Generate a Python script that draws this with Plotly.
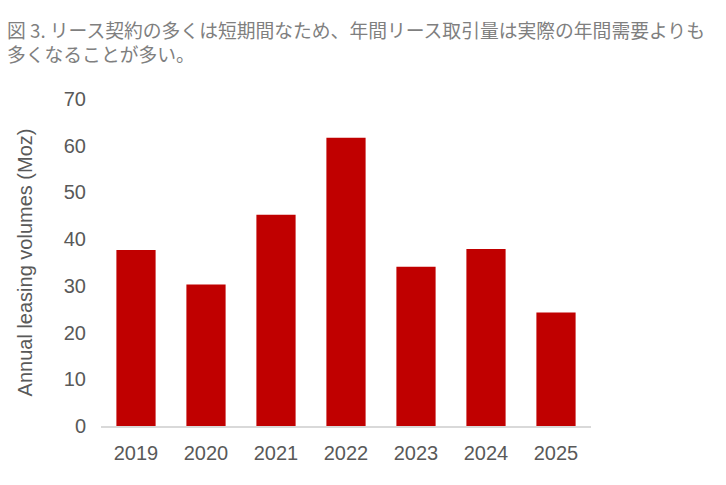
import plotly.graph_objects as go

years = ["2019", "2020", "2021", "2022", "2023", "2024", "2025"]
volumes = [37.7, 30.3, 45.2, 61.7, 34.1, 37.9, 24.3]
y_ticks = [0, 10, 20, 30, 40, 50, 60, 70]

title_lines = ["図 3. リース契約の多くは短期間なため、年間リース取引量は実際の年間需要よりも",
               "多くなることが多い。"]

L, R, T, B = 101, 135, 99, 59
W, H = 726, 485
pw, ph = W - L - R, H - T - B

fig = go.Figure(go.Bar(
    x=years, y=volumes,
    marker=dict(color="#C00000", line=dict(width=0)),
    width=0.56,
))

fig.update_layout(
    width=W, height=H,
    margin=dict(l=L, r=R, t=T, b=B),
    paper_bgcolor="white", plot_bgcolor="white",
    showlegend=False,
    annotations=[dict(
        text="<br>".join(title_lines), xref="paper", yref="paper",
        x=(5 - L) / pw, xanchor="left",
        y=(H - B - 42) / ph, yanchor="middle",
        showarrow=False, align="left",
        font=dict(family="Noto Sans CJK JP", size=18.8, color="#7f7f7f"),
    )],
    font=dict(family="Liberation Sans, Arial", size=20, color="#595959"),
)
fig.update_xaxes(
    showline=True, linecolor="#d9d9d9", linewidth=2,
    showgrid=False, ticks="", ticklabelstandoff=8,
    tickfont=dict(size=20, color="#595959"),
)
fig.update_yaxes(
    range=[0, 70], tickvals=y_ticks, showgrid=False, zeroline=False,
    showline=False, ticks="", ticklabelstandoff=14,
    tickfont=dict(size=20, color="#595959"),
    title=dict(text="Annual leasing volumes (Moz)", standoff=25,
               font=dict(size=20, color="#595959")),
)

fig.write_html("out.html")
